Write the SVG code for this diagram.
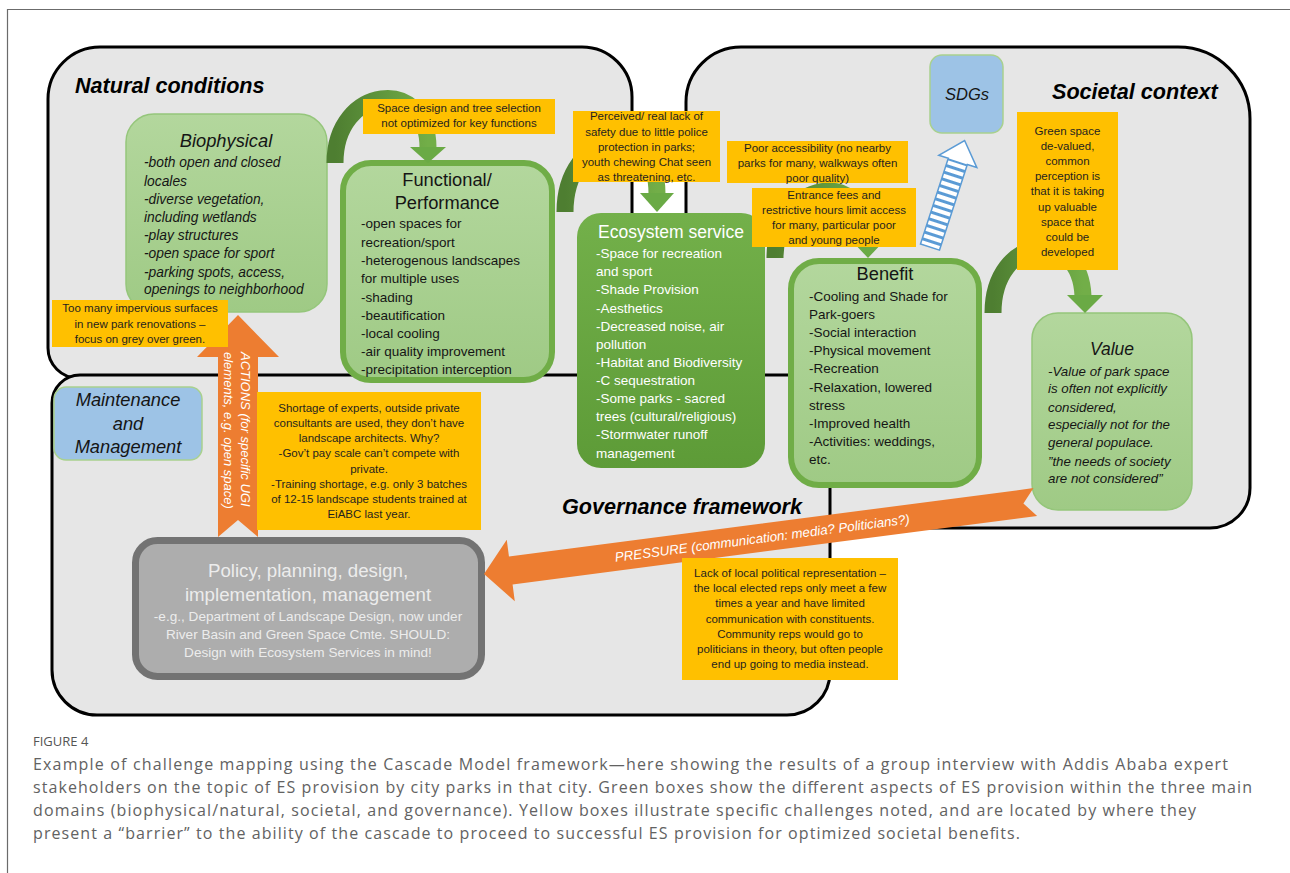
<svg xmlns="http://www.w3.org/2000/svg" width="1290" height="873" viewBox="0 0 1290 873">
<defs>
<style>
text{font-family:'Liberation Sans',Arial,sans-serif}
.panel{fill:#e6e6e6;stroke:#000;stroke-width:3}
.ptitle{font-size:21.6px;font-weight:bold;font-style:italic;fill:#000}
.lg{stroke:#95c67b;stroke-width:1.5}
.thick{stroke:#70ad47;stroke-width:6}
.body{font-size:13.5px;fill:#151515}
.it{font-style:italic}
.title{font-size:18.3px;fill:#151515;text-anchor:middle}
.yb{fill:#ffc000}
.yt{font-size:11.5px;fill:#1f1f1f;text-anchor:middle}
.blue{fill:#9dc3e6;stroke:#a9d18e;stroke-width:1.5}
.wt{fill:#ffffff}
.arc{fill:none;stroke-width:17;stroke:url(#garc)}
.ahead{fill:#6aaa45}
.orange{fill:#ed7d31}
.cap{font-family:'Open Sans','Liberation Sans',sans-serif;font-size:16px;fill:#626262}
</style>
<linearGradient id="gLight" x1="0" y1="0" x2="0" y2="1"><stop offset="0" stop-color="#b3d79d"/><stop offset="1" stop-color="#9fca85"/></linearGradient>
<linearGradient id="gEco" x1="0" y1="0" x2="0" y2="1"><stop offset="0" stop-color="#73b04a"/><stop offset="1" stop-color="#5d9b37"/></linearGradient>
<linearGradient id="garc" x1="0" y1="0" x2="1" y2="0"><stop offset="0" stop-color="#4e7e31"/><stop offset="1" stop-color="#72ae48"/></linearGradient>
<pattern id="stripes" patternUnits="userSpaceOnUse" width="20" height="7"><rect x="0" y="0" width="20" height="3" fill="#5b9bd5"/></pattern>
</defs>

<rect width="1290" height="873" fill="#ffffff"/>
<path d="M7.5,873 V9.5 H1290" fill="none" stroke="#6b6b6b" stroke-width="1.2"/>

<g id="panel-natural">
<path class="panel" d="M48,99 A52,52 0 0 1 100,47 H582 A50,50 0 0 1 632,97 V378 H78 A30,30 0 0 1 48,348 Z"/>
<text class="ptitle" x="75" y="93">Natural conditions</text>
</g>
<g id="panel-societal">
<path class="panel" d="M686,102 A55,55 0 0 1 741,47 H1178 A72,72 0 0 1 1250,119 V488 A40,40 0 0 1 1210,528 H686 Z"/>
<text class="ptitle" x="1052" y="99">Societal context</text>
</g>
<g id="panel-governance">
<path class="panel" d="M52,403 A28,28 0 0 1 80,375 H830 V672 A43,43 0 0 1 787,715 H97 A45,45 0 0 1 52,670 Z"/>
<text class="ptitle" x="562" y="514">Governance framework</text>
</g>

<g id="node-biophysical">
<rect x="126" y="114" width="201" height="198" rx="28" fill="url(#gLight)" class="lg"/>
<text class="title it" x="226" y="147">Biophysical</text>
<g class="body it" style="font-size:13.8px">
<text x="144" y="167">-both open and closed</text>
<text x="144" y="186">locales</text>
<text x="144" y="204">-diverse vegetation,</text>
<text x="144" y="222">including wetlands</text>
<text x="144" y="240">-play structures</text>
<text x="144" y="258">-open space for sport</text>
<text x="144" y="277">-parking spots, access,</text>
<text x="144" y="294">openings to neighborhood</text>
</g>
</g>

<g id="node-functional">
<rect x="343" y="163" width="209" height="217" rx="28" fill="url(#gLight)" class="thick"/>
<text class="title" x="447" y="186">Functional/</text>
<text class="title" x="447" y="209">Performance</text>
<g class="body">
<text x="361" y="228">-open spaces for</text>
<text x="361" y="247">recreation/sport</text>
<text x="361" y="265">-heterogenous landscapes</text>
<text x="361" y="283">for multiple uses</text>
<text x="361" y="302">-shading</text>
<text x="361" y="320">-beautification</text>
<text x="361" y="338">-local cooling</text>
<text x="361" y="356">-air quality improvement</text>
<text x="361" y="374">-precipitation interception</text>
</g>
</g>

<g id="node-ecosystem">
<rect x="577" y="213" width="188" height="255" rx="24" fill="url(#gEco)"/>
<text class="title wt" x="671" y="238" style="font-size:17.5px;fill:#fff">Ecosystem service</text>
<g class="body" style="fill:#fff">
<text x="596" y="258">-Space for recreation</text>
<text x="596" y="276">and sport</text>
<text x="596" y="294">-Shade Provision</text>
<text x="596" y="313">-Aesthetics</text>
<text x="596" y="331">-Decreased noise, air</text>
<text x="596" y="349">pollution</text>
<text x="596" y="367">-Habitat and Biodiversity</text>
<text x="596" y="385">-C sequestration</text>
<text x="596" y="403">-Some parks - sacred</text>
<text x="596" y="421">trees (cultural/religious)</text>
<text x="596" y="439">-Stormwater runoff</text>
<text x="596" y="458">management</text>
</g>
</g>

<g id="node-benefit">
<rect x="791" y="261" width="188" height="224" rx="28" fill="url(#gLight)" class="thick"/>
<text class="title" x="885" y="280">Benefit</text>
<g class="body">
<text x="809" y="301">-Cooling and Shade for</text>
<text x="809" y="319">Park-goers</text>
<text x="809" y="337">-Social interaction</text>
<text x="809" y="355">-Physical movement</text>
<text x="809" y="373">-Recreation</text>
<text x="809" y="392">-Relaxation, lowered</text>
<text x="809" y="410">stress</text>
<text x="809" y="428">-Improved health</text>
<text x="809" y="446">-Activities: weddings,</text>
<text x="809" y="464">etc.</text>
</g>
</g>

<g id="node-value">
<rect x="1032" y="313" width="160" height="197" rx="26" fill="url(#gLight)" class="lg"/>
<text class="title it" x="1112" y="355" style="font-size:17.5px">Value</text>
<g class="body it" style="font-size:13.3px">
<text x="1048" y="376">-Value of park space</text>
<text x="1048" y="393">is often not explicitly</text>
<text x="1048" y="412">considered,</text>
<text x="1048" y="429">especially not for the</text>
<text x="1048" y="447">general populace.</text>
<text x="1048" y="466">”the needs of society</text>
<text x="1048" y="483">are not considered”</text>
</g>
</g>

<g id="node-sdgs">
<rect x="930" y="55" width="73" height="78" rx="12" class="blue"/>
<text class="title it" x="967" y="100" style="font-size:16.5px">SDGs</text>
</g>

<g id="node-maintenance">
<rect x="54" y="387" width="148" height="73" rx="12" class="blue"/>
<g class="title it">
<text x="128" y="406">Maintenance</text>
<text x="128" y="430">and</text>
<text x="128" y="453">Management</text>
</g>
</g>

<g id="node-policy">
<rect x="135.5" y="540.5" width="346" height="136" rx="22" fill="#adadad" stroke="#737373" stroke-width="7"/>
<g style="fill:#ececec;text-anchor:middle">
<text x="308" y="577" style="font-size:18.7px">Policy, planning, design,</text>
<text x="308" y="601" style="font-size:18.7px">implementation, management</text>
<text x="308" y="621" style="font-size:13.6px">-e.g., Department of Landscape Design, now under</text>
<text x="308" y="639" style="font-size:13.6px">River Basin and Green Space Cmte. SHOULD:</text>
<text x="308" y="657" style="font-size:13.6px">Design with Ecosystem Services in mind!</text>
</g>
</g>

<g id="connectors">
<path class="arc" d="M335,163 C335,85 428,75 428,148"/>
<polygon class="ahead" points="410,147 446,147 428,163"/>
<path class="arc" d="M565,212 C565,130 657,115 657,194"/>
<polygon class="ahead" points="640,193 674,193 657,212"/>
<path class="arc" d="M775,258 C775,180 868,165 868,241"/>
<polygon class="ahead" points="851,240 885,240 868,258"/>
<path class="arc" d="M993,313 C993,235 1080,225 1083,296"/>
<polygon class="ahead" points="1067,295 1103,295 1085,313"/>

<g id="arrow-sdgs" transform="translate(930,247) rotate(18)">
<polygon points="0,-112 20,-90 10,-90 10,0 -10,0 -10,-90 -20,-90" fill="#ffffff"/>
<rect x="-10" y="-90" width="20" height="90" fill="url(#stripes)"/>
<polygon points="0,-112 20,-90 10,-90 10,0 -10,0 -10,-90 -20,-90" fill="none" stroke="#5b9bd5" stroke-width="1.5"/>
</g>

<g id="arrow-actions">
<polygon class="orange" points="238,315 279,357 258,357 258,537 238,520 218,537 218,357 197,357"/>
<text class="it wt" transform="translate(241,352) rotate(90)" style="font-size:13px">ACTIONS (for specific UGI</text>
<text class="it wt" transform="translate(224,352) rotate(90)" style="font-size:13px">elements, e.g. open space)</text>
</g>

<g id="arrow-pressure" transform="translate(484,574) rotate(-7.44)">
<polygon class="orange" points="0,0 27,-31 27,-14 556,-14 544,0 556,14 27,14 27,31"/>
<text class="it wt" x="132" y="5" style="font-size:13.3px">PRESSURE (communication: media? Politicians?)</text>
</g>
</g>

<g id="note-space-design">
<rect class="yb" x="363" y="99" width="192" height="35"/>
<g class="yt"><text x="459" y="112">Space design and tree selection</text><text x="459" y="127">not optimized for key functions</text></g>
</g>
<g id="note-safety">
<rect class="yb" x="573" y="111" width="147" height="71"/>
<g class="yt">
<text x="646.5" y="120">Perceived/ real lack of</text>
<text x="646.5" y="136">safety due to little police</text>
<text x="646.5" y="151">protection in parks;</text>
<text x="646.5" y="166">youth chewing Chat seen</text>
<text x="646.5" y="181">as threatening, etc.</text>
</g>
</g>
<g id="note-accessibility">
<rect class="yb" x="727" y="141" width="181" height="42"/>
<g class="yt">
<text x="817.5" y="152">Poor accessibility (no nearby</text>
<text x="817.5" y="167">parks for many, walkways often</text>
<text x="817.5" y="182">poor quality)</text>
</g>
</g>
<g id="note-fees">
<rect class="yb" x="752" y="188" width="164" height="59"/>
<g class="yt">
<text x="834" y="199">Entrance fees and</text>
<text x="834" y="214">restrictive hours limit access</text>
<text x="834" y="229">for many, particular poor</text>
<text x="834" y="244">and young people</text>
</g>
</g>
<g id="note-devalued">
<rect class="yb" x="1017" y="112" width="101" height="158"/>
<g class="yt">
<text x="1067.5" y="135">Green space</text>
<text x="1067.5" y="150">de-valued,</text>
<text x="1067.5" y="165">common</text>
<text x="1067.5" y="180">perception is</text>
<text x="1067.5" y="195">that it is taking</text>
<text x="1067.5" y="211">up valuable</text>
<text x="1067.5" y="226">space that</text>
<text x="1067.5" y="241">could be</text>
<text x="1067.5" y="256">developed</text>
</g>
</g>
<g id="note-impervious">
<rect class="yb" x="52" y="300" width="176" height="47"/>
<g class="yt">
<text x="140" y="312">Too many impervious surfaces</text>
<text x="140" y="328">in new park renovations –</text>
<text x="140" y="343">focus on grey over green.</text>
</g>
</g>
<g id="note-experts">
<rect class="yb" x="257" y="392" width="224" height="138"/>
<g class="yt">
<text x="369" y="412">Shortage of experts, outside private</text>
<text x="369" y="427">consultants are used, they don’t have</text>
<text x="369" y="442">landscape architects. Why?</text>
<text x="369" y="457">-Gov’t pay scale can’t compete with</text>
<text x="369" y="473">private.</text>
<text x="369" y="488">-Training shortage, e.g. only 3 batches</text>
<text x="369" y="503">of 12-15 landscape students trained at</text>
<text x="369" y="518">EiABC last year.</text>
</g>
</g>
<g id="note-representation">
<rect class="yb" x="682" y="558" width="216" height="122"/>
<g class="yt">
<text x="790" y="577">Lack of local political representation –</text>
<text x="790" y="592">the local elected reps only meet a few</text>
<text x="790" y="607">times a year and have limited</text>
<text x="790" y="623">communication with constituents.</text>
<text x="790" y="638">Community reps would go to</text>
<text x="790" y="653">politicians in theory, but often people</text>
<text x="790" y="668">end up going to media instead.</text>
</g>
</g>

<g id="caption">
<text class="cap" x="33" y="746" style="font-size:13px;fill:#555">FIGURE 4</text>
<text class="cap" x="33" y="770" textLength="1195">Example of challenge mapping using the Cascade Model framework—here showing the results of a group interview with Addis Ababa expert</text>
<text class="cap" x="33" y="793" textLength="1219">stakeholders on the topic of ES provision by city parks in that city. Green boxes show the different aspects of ES provision within the three main</text>
<text class="cap" x="33" y="816" textLength="1163">domains (biophysical/natural, societal, and governance). Yellow boxes illustrate specific challenges noted, and are located by where they</text>
<text class="cap" x="33" y="839" textLength="987">present a “barrier” to the ability of the cascade to proceed to successful ES provision for optimized societal benefits.</text>
</g>
</svg>
